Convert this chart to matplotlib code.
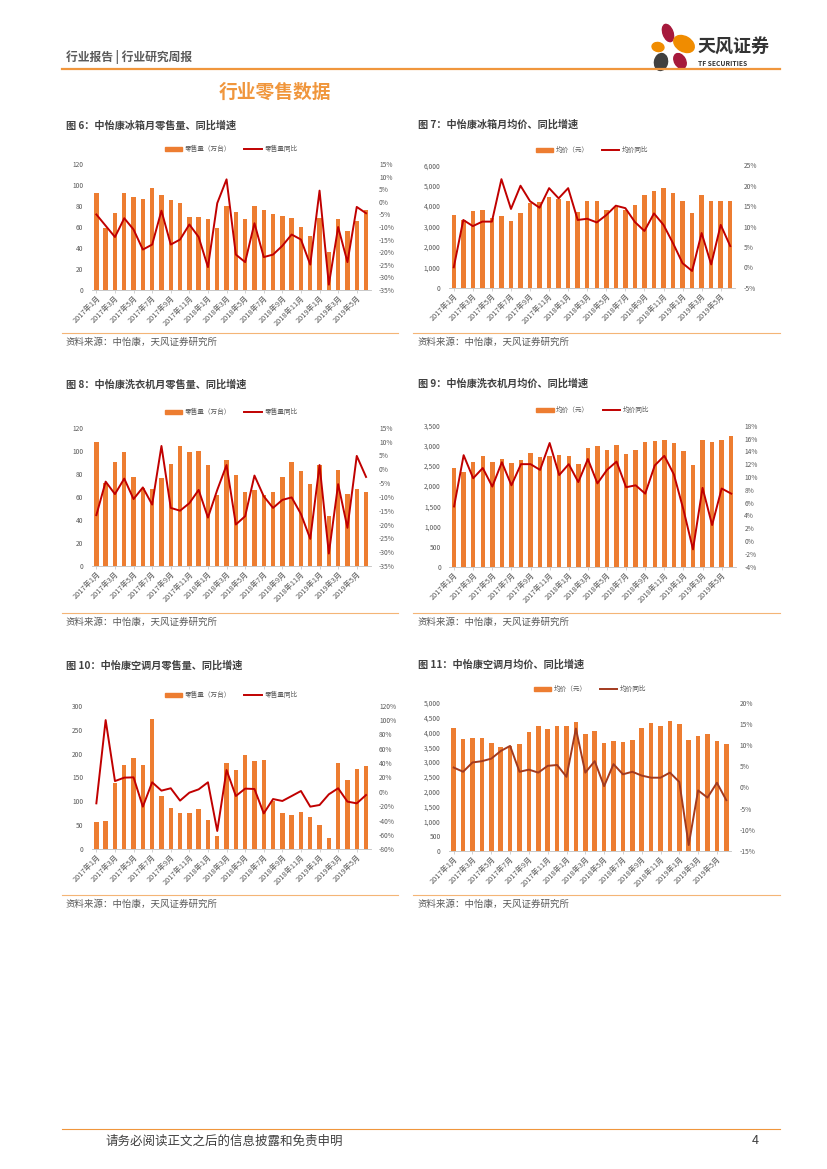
import matplotlib
matplotlib.use("Agg")
import matplotlib.pyplot as plt
from matplotlib.patches import Patch, Ellipse
from matplotlib.lines import Line2D
from matplotlib.ticker import FuncFormatter

plt.rcParams['font.family'] = ['Noto Sans CJK SC', 'DejaVu Sans']

# 月份：2017年1月 - 2019年6月
months = [f"{y}年{m}月" for y in (2017, 2018, 2019) for m in range(1, 13)][:30]

# 图6 冰箱零售量（万台）及同比
fridge_vol = [93, 59, 73, 93, 89, 87, 97, 91, 86, 83, 70, 70, 68, 59, 80,
              74, 68, 80, 76, 72, 71, 69, 60, 51, 69, 36, 68, 56, 66, 76]
fridge_vol_yoy = [-5, -9.5, -14, -6.5, -11, -19, -17, -3.5, -17, -15, -9, -14, -26, -0.5, 9,
                  -21, -24, -8.5, -22, -21, -17.5, -13, -15, -25, 4.5, -33, -10, -24, -2, -4.5]

# 图7 冰箱均价（元）及同比
fridge_price = [3560, 3320, 3770, 3810, 3400, 3510, 3270, 3680, 4170, 4220, 4440, 4350, 4250, 3730, 4250,
                4250, 3810, 3970, 3790, 4050, 4540, 4740, 4890, 4660, 4250, 3680, 4540, 4250, 4250, 4250]
fridge_price_yoy = [0, 11.6, 10.1, 11.2, 11.2, 21.6, 14.3, 20.0, 16.2, 14.6, 19.4, 16.9, 19.4, 11.6, 11.9,
                    11.0, 12.8, 15.1, 14.5, 11.1, 8.9, 13.2, 10.4, 5.9, 1.0, -0.9, 8.4, 0.7, 10.4, 5.2]

# 图8 洗衣机零售量（万台）及同比
washer_vol = [108, 72, 90, 99, 77.5, 68, 66.5, 76.6, 88.5, 104.4, 98.6, 99.8, 87.6, 62, 92,
              79, 64, 66, 62, 64, 77, 90, 82, 71, 87.6, 43, 83, 62.5, 67, 64]
washer_vol_yoy = [-16.6, -4.5, -9, -3.4, -10.8, -6.6, -12.8, 8.4, -14, -15, -12.3, -7.5, -17.5, -7.5, 1.5,
                  -20, -17, -2.3, -9.8, -14, -11.1, -10.2, -16.2, -25.2, 1.5, -30.5, -5.4, -21.2, 4.8, -2.8]

# 图9 洗衣机均价（元）及同比
washer_price = [2457, 2341, 2597, 2746, 2597, 2672, 2572, 2655, 2820, 2730, 2754, 2771, 2746, 2548, 2945,
                2994, 2903, 3027, 2796, 2903, 3102, 3127, 3151, 3069, 2878, 2531, 3151, 3102, 3151, 3251]
washer_price_yoy = [5.4, 13.4, 9.8, 11.4, 8.5, 12.3, 8.7, 12.0, 12.0, 11.1, 15.3, 10.3, 12.0, 9.2, 12.8,
                    9.0, 11.1, 12.4, 8.4, 8.7, 7.4, 11.8, 13.3, 10.4, 4.9, -1.3, 8.3, 2.5, 8.2, 7.4]

# 图10 空调零售量（万台）及同比
ac_vol = [56, 59, 139, 176, 191, 176, 272, 111, 86, 76.5, 76.5, 84, 62, 28, 181,
          166, 198, 184, 187, 100, 76.5, 72, 78, 67.5, 51, 24.4, 181, 145, 167, 175]
ac_vol_yoy = [-16, 100, 15, 19.8, 20.2, -20.6, 13.3, 1.7, 5, -12.2, -1.1, 3.5, 13.3, -54.5, 30.4,
              -5.8, 4.5, 4, -30, -10, -12.7, -5.8, 1.2, -20.6, -18.3, -3.4, 5, -13.6, -16, -4.4]

# 图11 空调均价（元）及同比
ac_price = [4157, 3787, 3820, 3820, 3640, 3517, 3550, 3607, 4011, 4225, 4124, 4225, 4225, 4360, 3944,
            4056, 3640, 3708, 3685, 3753, 4135, 4326, 4225, 4393, 4292, 3753, 3876, 3944, 3719, 3618]
ac_price_yoy = [4.7, 3.7, 5.9, 6.2, 6.8, 8.6, 9.8, 3.7, 4.2, 3.5, 5.1, 5.3, 2.5, 13.9, 3.5,
                6.2, 0.3, 5.5, 3.1, 3.7, 2.8, 2.3, 2.3, 3.5, 1.3, -13.6, -0.7, -2.4, 1.1, -3.0]

ORANGE = '#ED7D31'
RED = '#C00000'
BROWN = '#A33A1E'
GRAY = '#595959'
LINE_OR = '#F0963C'

W, H = 827, 1169
fig = plt.figure(figsize=(W / 100, H / 100), dpi=100)


def add_ax_px(x0, x1, y0, y1):
    return fig.add_axes([x0 / W, 1 - y1 / H, (x1 - x0) / W, (y1 - y0) / H])


def panel(rect, bars, line, lticks, rticks, bar_lab, line_lab, lcolor, comma, legend_y):
    x0, x1, y0, y1 = rect
    ax = add_ax_px(x0, x1, y0, y1)
    xs = list(range(len(bars)))
    ax.bar(xs, bars, width=0.47, color=ORANGE, zorder=2)
    ax.set_xlim(-0.5, len(bars) - 0.5)
    ax.set_ylim(lticks[0], lticks[-1])
    ax.set_yticks(lticks)
    if comma:
        ax.yaxis.set_major_formatter(FuncFormatter(lambda v, p: f"{v:,.0f}"))
    ax.set_xticks(xs[::2])
    ax.set_xticklabels(months[::2], rotation=45, ha='right', rotation_mode='anchor')
    for s in ('top', 'left', 'right'):
        ax.spines[s].set_visible(False)
    ax.spines['bottom'].set_color('#BFBFBF')
    ax.spines['bottom'].set_linewidth(0.6)
    ax.tick_params(axis='y', length=0, labelsize=4.8, labelcolor=GRAY, pad=6)
    ax.tick_params(axis='x', length=2, width=0.5, color='#BFBFBF', labelsize=5.3,
                   labelcolor=GRAY, pad=1)

    ax2 = ax.twinx()
    ax2.plot(xs, line, color=lcolor, lw=1.4, zorder=3)
    ax2.set_ylim(rticks[0], rticks[-1])
    ax2.set_yticks(rticks)
    ax2.yaxis.set_major_formatter(FuncFormatter(lambda v, p: f"{v:.0f}%"))
    for s in ('top', 'left', 'right', 'bottom'):
        ax2.spines[s].set_visible(False)
    ax2.tick_params(axis='y', length=0, labelsize=4.8, labelcolor=GRAY, pad=6)

    handles = [Patch(color=ORANGE), Line2D([], [], color=lcolor, lw=1.4)]
    off = 1 + (y0 - legend_y) / (y1 - y0)
    ax2.legend(handles, [bar_lab, line_lab], loc='center', bbox_to_anchor=(0.5, off),
               ncol=2, frameon=False, fontsize=4.8, handlelength=2.6, handleheight=0.5,
               columnspacing=2.0, handletextpad=0.4, labelcolor=GRAY)
    return ax


vol_lab, vol_yoy_lab = '零售量（万台）', '零售量同比'
pr_lab, pr_yoy_lab = '均价（元）', '均价同比'

panel((91.7, 370.7, 164.3, 289.7), fridge_vol, fridge_vol_yoy,
      list(range(0, 121, 20)), list(range(-35, 16, 5)), vol_lab, vol_yoy_lab, RED, False, 149)
panel((449, 735, 165.3, 287.7), fridge_price, fridge_price_yoy,
      list(range(0, 6001, 1000)), list(range(-5, 26, 5)), pr_lab, pr_yoy_lab, RED, True, 150)
panel((91.7, 370.7, 427.7, 566), washer_vol, washer_vol_yoy,
      list(range(0, 121, 20)), list(range(-35, 16, 5)), vol_lab, vol_yoy_lab, RED, False, 412)
panel((449.3, 736, 425.7, 566.7), washer_price, washer_price_yoy,
      list(range(0, 3501, 500)), list(range(-4, 19, 2)), pr_lab, pr_yoy_lab, RED, True, 410)
panel((91.7, 370.7, 705.7, 849.3), ac_vol, ac_vol_yoy,
      list(range(0, 301, 50)), list(range(-80, 121, 20)), vol_lab, vol_yoy_lab, RED, False, 695)
panel((449, 731, 702.7, 851), ac_price, ac_price_yoy,
      list(range(0, 5001, 500)), list(range(-15, 21, 5)), pr_lab, pr_yoy_lab, BROWN, True, 689)

# 页面框架：页眉、标题、来源、页脚
page = fig.add_axes([0, 0, 1, 1], zorder=-1)
page.set_xlim(0, W)
page.set_ylim(H, 0)
page.axis('off')

page.text(66, 57, '行业报告 | 行业研究周报', fontsize=8.5, color=GRAY, va='center', fontweight='bold')
page.plot([62, 780], [68.5, 68.5], color=LINE_OR, lw=1.6)

# logo
for (cx, cy, w, h, ang, c) in [(668, 33, 10, 18, -20, '#A6193C'), (684, 44, 22, 15, 30, '#F08C00'),
                               (658, 47, 12, 9, 10, '#F08C00'), (661, 62, 13, 17, 10, '#404040'),
                               (680, 61, 11, 16, -30, '#A6193C')]:
    page.add_patch(Ellipse((cx, cy), w, h, angle=ang, color=c))
page.text(697, 47, '天风证券', fontsize=13, fontweight='bold', color='#333333', va='center')
page.text(698, 63, 'TF SECURITIES', fontsize=4.8, fontweight='bold', color='#333333', va='center')

page.text(275, 92, '行业零售数据', fontsize=13.5, fontweight='bold', color=LINE_OR,
          ha='center', va='center')

titles = [(66, 125, '图 6：中怡康冰箱月零售量、同比增速'), (418, 125, '图 7：中怡康冰箱月均价、同比增速'),
          (66, 384, '图 8：中怡康洗衣机月零售量、同比增速'), (418, 384, '图 9：中怡康洗衣机月均价、同比增速'),
          (66, 665, '图 10：中怡康空调月零售量、同比增速'), (418, 665, '图 11：中怡康空调月均价、同比增速')]
for x, y, t in titles:
    page.text(x, y, t, fontsize=7.3, fontweight='bold', color='#404040', va='center')

src = '资料来源：中怡康，天风证券研究所'
for y_line, y_txt in [(333, 342), (613, 622), (895, 904)]:
    page.plot([62, 398], [y_line, y_line], color=LINE_OR, lw=0.8, alpha=0.7)
    page.plot([413, 780], [y_line, y_line], color=LINE_OR, lw=0.8, alpha=0.7)
    page.text(66, y_txt, src, fontsize=6.8, color=GRAY, va='center')
    page.text(418, y_txt, src, fontsize=6.8, color=GRAY, va='center')

page.plot([62, 780], [1129, 1129], color=LINE_OR, lw=0.8)
page.text(105, 1141, '请务必阅读正文之后的信息披露和免责申明', fontsize=9, color='#404040', va='center')
page.text(752, 1141, '4', fontsize=9, color='#404040', va='center')

fig.savefig('out.png', dpi=100)
